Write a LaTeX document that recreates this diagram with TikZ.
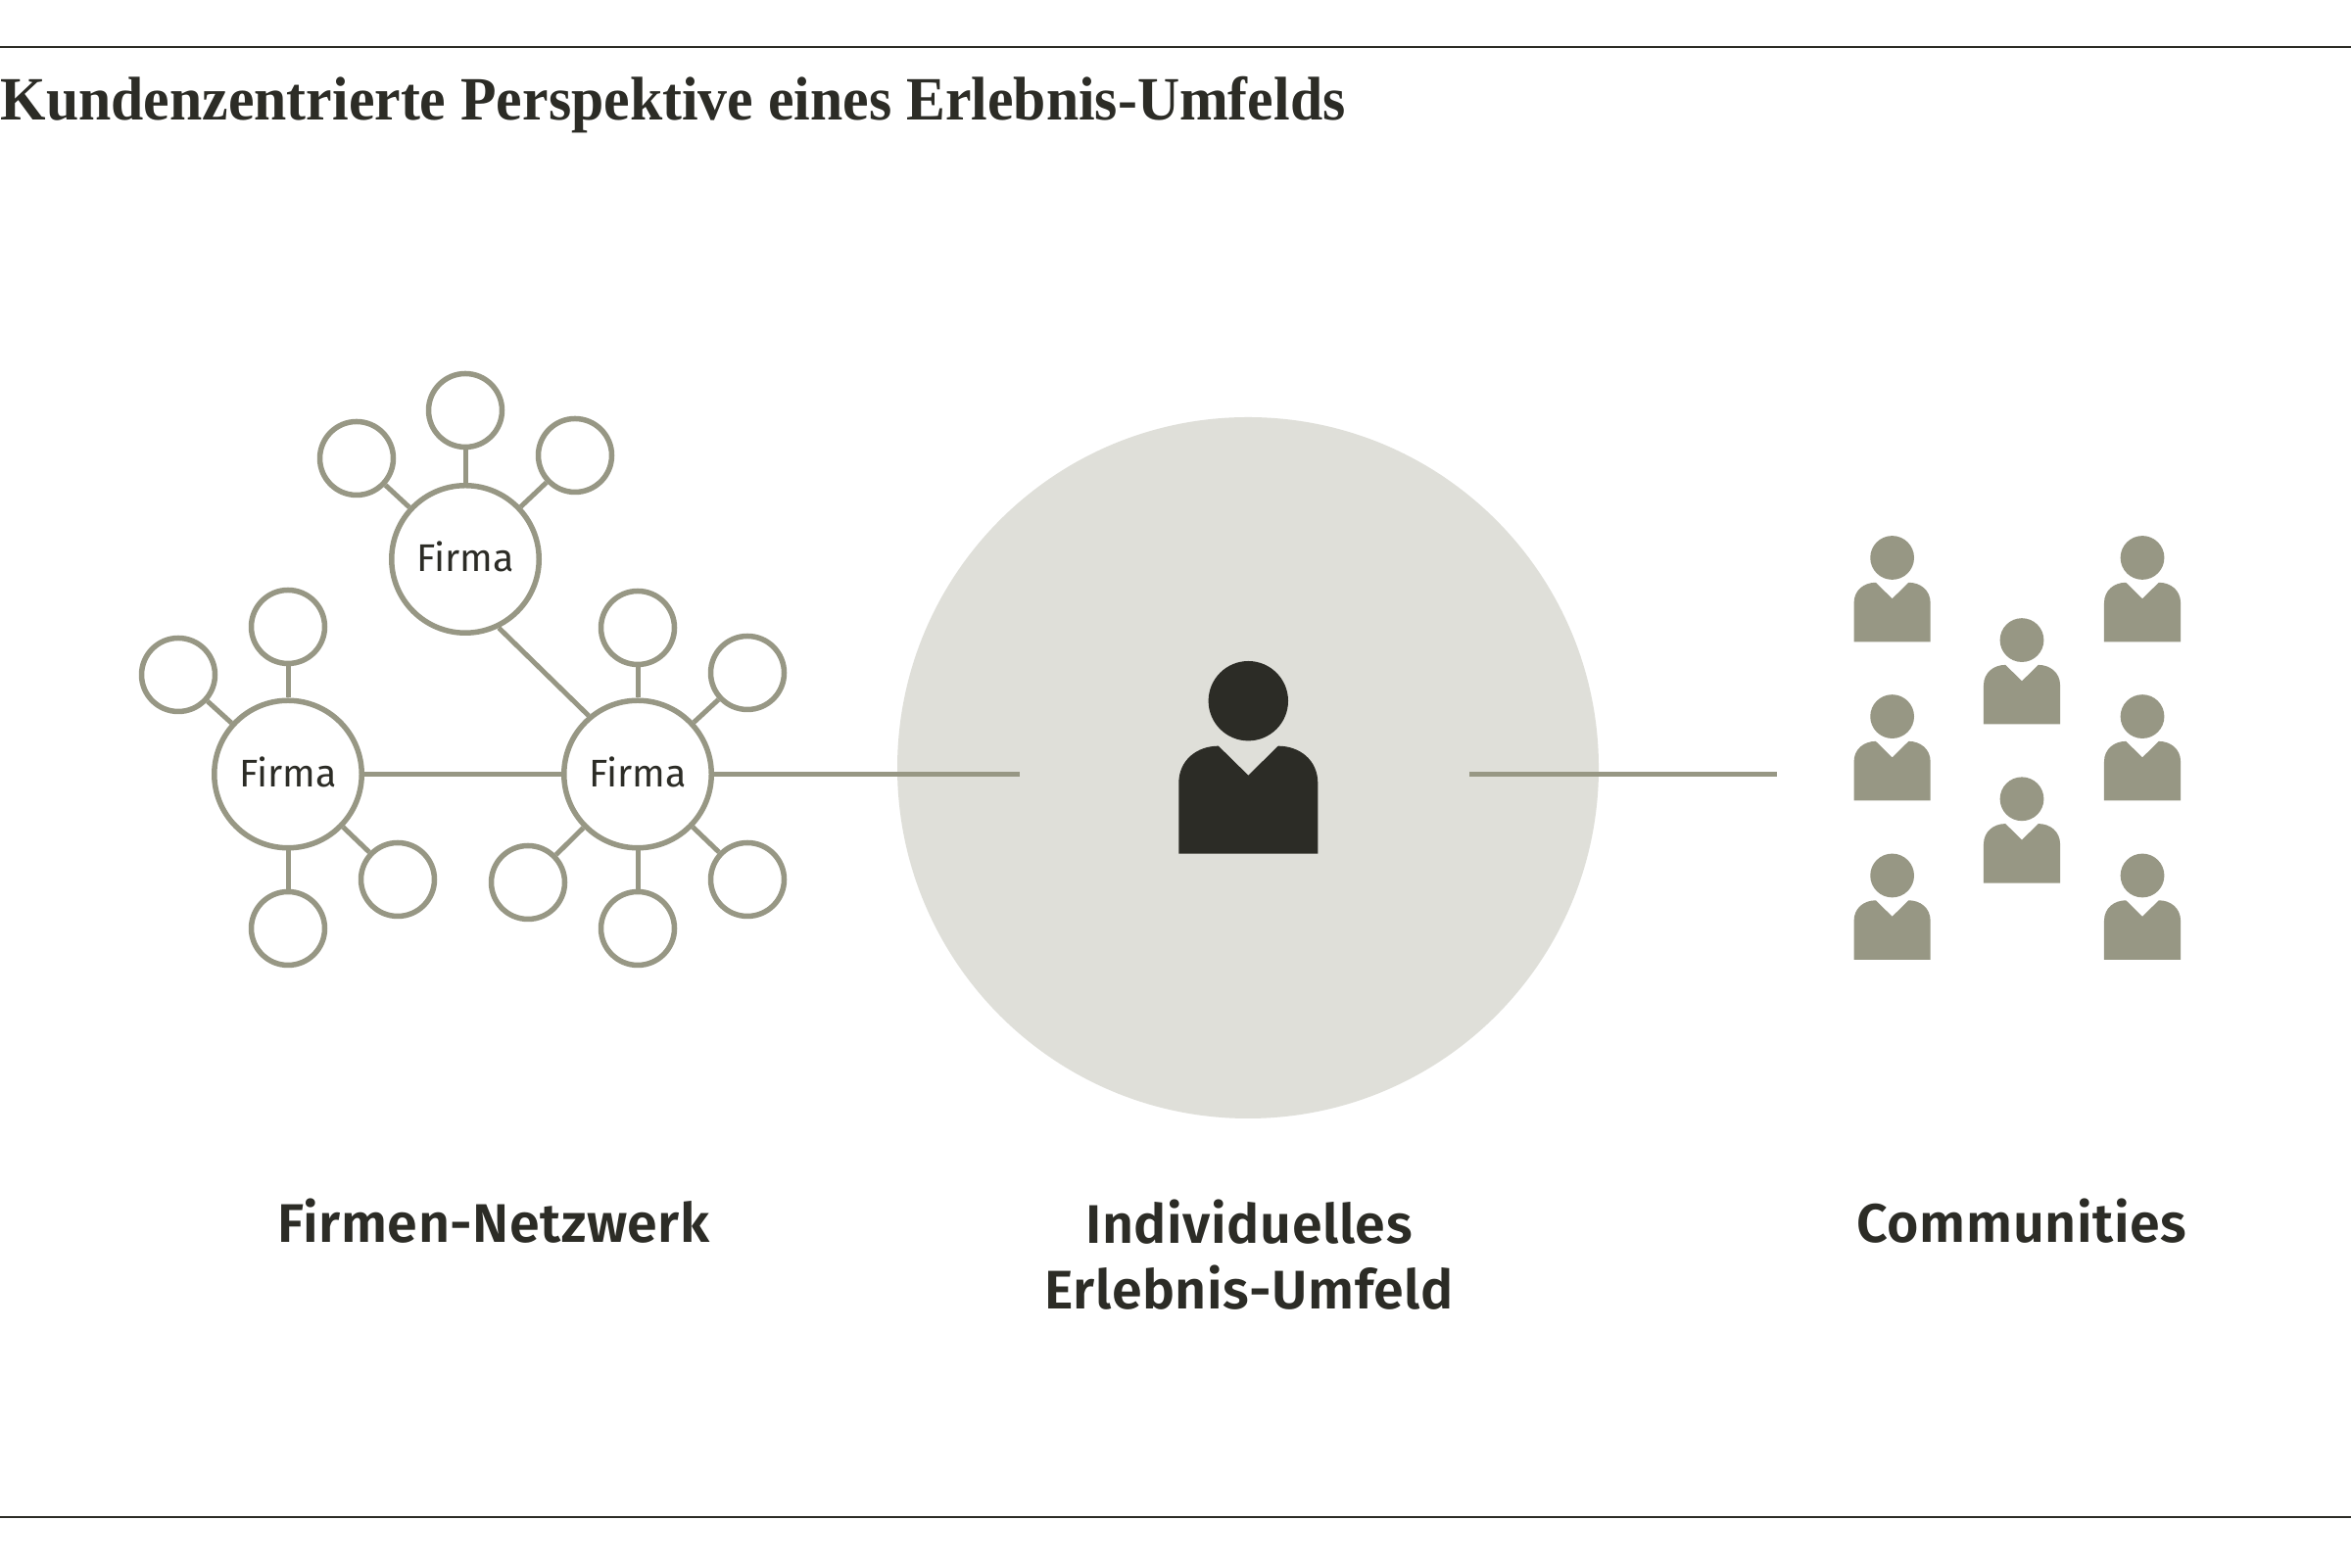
\documentclass[tikz,border=0pt]{standalone}
\usepackage{xcolor}
\usepackage{fontspec}
\setmainfont{Fira Sans}[BoldFont={Fira Sans SemiBold},BoldFeatures={LetterSpace=1}]
\newfontfamily\titlefont{Liberation Serif}[FakeStretch=0.95]
\definecolor{oliv}{HTML}{979784}
\definecolor{hellgrau}{HTML}{DFDFD9}
\definecolor{dunkel}{HTML}{2C2C26}
\begin{document}
\begin{tikzpicture}[
			firma/.style = {circle,draw=oliv,fill=white,line width=0.055cm,inner sep=0pt,minimum size=1.505cm,text=dunkel,font=\fontsize{11.2pt}{13pt}\selectfont,text depth=1.4pt},
			klein/.style = {circle,draw=oliv,fill=white,line width=0.055cm,inner sep=0pt,minimum size=0.75cm},
			linie/.style = {draw=oliv,line width=0.05cm},
			rahmen/.style = {draw=dunkel,line width=0.02cm},
			titel/.style = {anchor=base west,inner sep=0pt,text=dunkel,font=\titlefont\bfseries\fontsize{17.9pt}{20pt}\selectfont},
			gruppe/.style = {anchor=base,inner sep=0pt,align=center,text=dunkel,font=\bfseries\fontsize{15.8pt}{19.3pt}\selectfont},
			person/.pic = {
				\fill[pic actions] (0,0) circle (0.407);
				\fill[pic actions] (-0.71,-1.56) -- (-0.71,-0.84) .. controls (-0.71,-0.60) and (-0.52,-0.46) .. (-0.305,-0.46) -- (0,-0.76) -- (0.305,-0.46) .. controls (0.52,-0.46) and (0.71,-0.60) .. (0.71,-0.84) -- (0.71,-1.56) -- cycle;
			}
		]

		\useasboundingbox (0,0) rectangle (24,16);
		\fill[white] (0,0) rectangle (24,16);

		% rules and title
		\coordinate (ol) at (0,15.52);
		\coordinate (or) at (24,15.52);
		\coordinate (ul) at (0,0.51);
		\coordinate (ur) at (24,0.51);
		\draw[rahmen] (ol) -- (or);
		\draw[rahmen] (ul) -- (ur);
		\node[titel] (titel) at (0,14.775) {Kundenzentrierte Perspektive eines Erlebnis-Umfelds};

		% middle
		\node[circle,fill=hellgrau,inner sep=0pt,minimum size=7.16cm] (umfeld) at (12.74,8.16) {};
		\pic[fill=dunkel] at (12.743,8.843) {person};

		% firms
		\node[firma] (fo) at (4.75,10.29) {Firma};
		\node[firma] (fl) at (2.94,8.095) {Firma};
		\node[firma] (fr) at (6.51,8.095) {Firma};

		\foreach \n/\x/\y/\f in {
			a/4.75/11.81/fo, b/3.64/11.32/fo, c/5.87/11.35/fo,
			d/2.94/9.60/fl, e/1.82/9.11/fl, f/4.06/7.02/fl, g/2.94/6.52/fl,
			h/6.51/9.59/fr, i/7.63/9.13/fr, j/5.39/6.99/fr, k/7.63/7.02/fr, m/6.51/6.52/fr}{
			\node[klein] (\n) at (\x,\y) {};
			\draw[linie] (\f) -- (\n);
		}

		\draw[linie] (fl) -- (fr);
		\draw[linie] (fo.-64.5) -- (fr.130.5);

		\coordinate (el) at (10.41,8.095);
		\coordinate (ea) at (15.00,8.095);
		\coordinate (eb) at (18.14,8.095);
		\draw[linie] (fr) -- (el);
		\draw[linie] (ea) -- (eb);

		% communities
		\foreach \x/\y in {19.316/10.305,19.316/8.684,19.316/7.06,20.64/9.464,20.64/7.842,21.87/10.305,21.87/8.684,21.87/7.06}{
			\pic[fill=oliv,scale=0.55] at (\x,\y) {person};
		}

		% labels
		\node[gruppe] (netz) at (5.04,3.31) {Firmen-Netzwerk};
		\node[gruppe] (erl) at (12.75,2.63) {Individuelles\\Erlebnis-Umfeld};
		\node[gruppe] (comm) at (20.64,3.31) {Communities};

		\end{tikzpicture}
\end{document}
